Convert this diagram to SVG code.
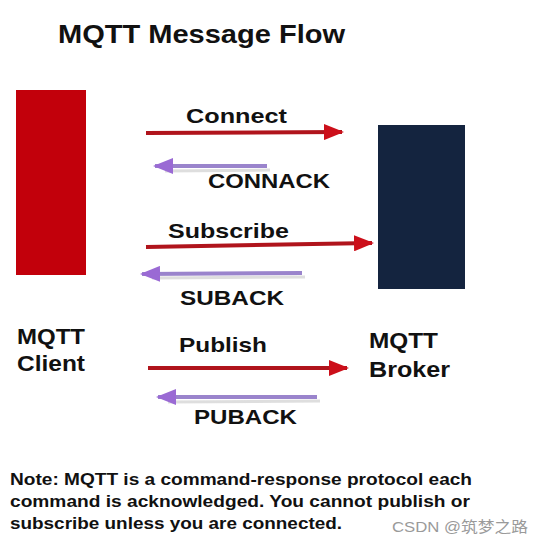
<svg xmlns="http://www.w3.org/2000/svg" width="544" height="544" viewBox="0 0 544 544">
  <style>
    .t { font-family: "Liberation Sans", Arial, sans-serif; font-weight: bold; fill: #111; }
    .req { stroke: #b0141c; stroke-width: 4; fill: none; }
    .ack { stroke: #9a84cc; stroke-width: 4; fill: none; }
    .shadow { stroke: #c8c8c8; stroke-width: 3; fill: none; opacity: 0.6; }
    .wm { font-family: "Liberation Sans", Arial, "Noto Sans CJK SC", sans-serif; fill: #9a9a9a; font-size: 15px; }
  </style>
  <defs>
    <marker id="redHead" markerUnits="userSpaceOnUse" markerWidth="20" markerHeight="16" refX="18" refY="8" orient="auto">
      <path d="M0,0 L20,8 L0,16 Z" fill="#cc0f1a"/>
    </marker>
    <marker id="purpleHead" markerUnits="userSpaceOnUse" markerWidth="20" markerHeight="16" refX="18" refY="8" orient="auto">
      <path d="M0,0 L20,8 L0,16 Z" fill="#9a6ad4"/>
    </marker>
  </defs>
  <rect width="544" height="544" fill="#ffffff"/>

  <text class="t" x="58" y="43" font-size="25" textLength="287" lengthAdjust="spacingAndGlyphs">MQTT Message Flow</text>

  <g id="client">
    <rect x="16" y="90" width="70" height="185" fill="#c2000b"/>
    <text class="t" x="17" y="344" font-size="22" textLength="68" lengthAdjust="spacingAndGlyphs">MQTT</text>
    <text class="t" x="17" y="371" font-size="22" textLength="68" lengthAdjust="spacingAndGlyphs">Client</text>
  </g>

  <g id="broker">
    <rect x="378" y="125" width="87" height="164" fill="#14243f"/>
    <text class="t" x="369" y="348" font-size="22" textLength="69" lengthAdjust="spacingAndGlyphs">MQTT</text>
    <text class="t" x="369" y="377" font-size="22" textLength="81" lengthAdjust="spacingAndGlyphs">Broker</text>
  </g>

  <g id="connectors">
    <line class="req" x1="146" y1="133" x2="342" y2="132" marker-end="url(#redHead)"/>
    <line class="shadow" x1="165" y1="171" x2="270" y2="170"/>
    <line class="ack" x1="267" y1="166" x2="155" y2="166" marker-end="url(#purpleHead)"/>

    <line class="req" x1="146" y1="247" x2="372" y2="243" marker-end="url(#redHead)"/>
    <line class="shadow" x1="152" y1="278" x2="305" y2="277"/>
    <line class="ack" x1="302" y1="273" x2="142" y2="274" marker-end="url(#purpleHead)"/>

    <line class="req" x1="148" y1="368" x2="347" y2="368" marker-end="url(#redHead)"/>
    <line class="shadow" x1="168" y1="402" x2="320" y2="401"/>
    <line class="ack" x1="317" y1="397" x2="158" y2="397" marker-end="url(#purpleHead)"/>

    <text class="t" x="186" y="123" font-size="21" textLength="101" lengthAdjust="spacingAndGlyphs">Connect</text>
    <text class="t" x="208" y="188" font-size="21" textLength="122" lengthAdjust="spacingAndGlyphs">CONNACK</text>
    <text class="t" x="168" y="238" font-size="21" textLength="121" lengthAdjust="spacingAndGlyphs">Subscribe</text>
    <text class="t" x="180" y="305" font-size="21" textLength="104" lengthAdjust="spacingAndGlyphs">SUBACK</text>
    <text class="t" x="179" y="352" font-size="21" textLength="88" lengthAdjust="spacingAndGlyphs">Publish</text>
    <text class="t" x="194" y="424" font-size="21" textLength="103" lengthAdjust="spacingAndGlyphs">PUBACK</text>
  </g>

  <g id="note">
    <text class="t" x="10" y="485" font-size="16.5" textLength="462" lengthAdjust="spacingAndGlyphs">Note: MQTT is a command-response protocol each</text>
    <text class="t" x="10" y="507" font-size="16.5" textLength="460" lengthAdjust="spacingAndGlyphs">command is acknowledged. You cannot publish or</text>
    <text class="t" x="10" y="529" font-size="16.5" textLength="332" lengthAdjust="spacingAndGlyphs">subscribe unless you are connected.</text>
  </g>

  <text class="wm" x="392" y="532" textLength="136" lengthAdjust="spacingAndGlyphs">CSDN @筑梦之路</text>
</svg>
